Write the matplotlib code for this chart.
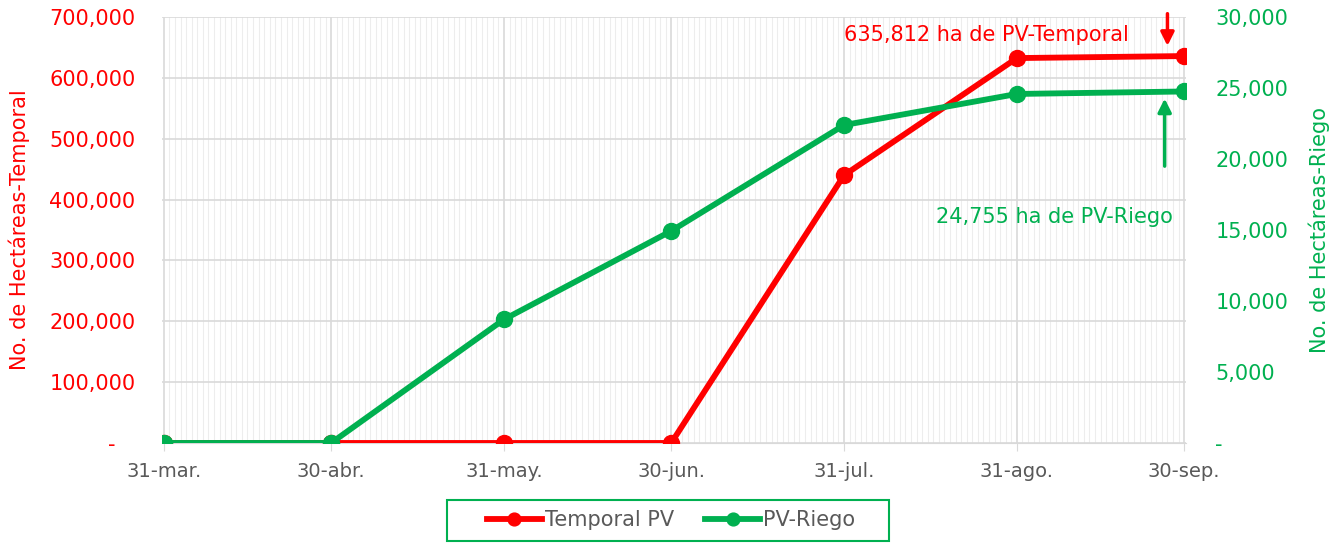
import matplotlib
matplotlib.use("Agg")
import matplotlib.pyplot as plt
import matplotlib.dates as mdates
from matplotlib.patches import Rectangle
import numpy as np
import pandas as pd
from matplotlib.ticker import FuncFormatter, MultipleLocator

plt.rcParams['font.family'] = ['DejaVu Sans']

dates = pd.to_datetime(["2023-03-31", "2023-04-30", "2023-05-31", "2023-06-30",
                        "2023-07-31", "2023-08-31", "2023-09-30"])
tick_labels = ["31-mar.", "30-abr.", "31-may.", "30-jun.", "31-jul.", "31-ago.", "30-sep."]
temporal = [0, 0, 0, 0, 440000, 632500, 635812]
riego = [0, 0, 8700, 14930, 22390, 24580, 24755]

RED = "#FF0000"
GREEN = "#00B050"
GRAY = "#595959"

fig = plt.figure(figsize=(13.4, 5.43), dpi=100)
ax = fig.add_axes([0.1209, 0.1842, 0.7642, 0.7845])
ax2 = ax.twinx()

pad = pd.Timedelta(hours=8)
ax.set_xlim(dates[0] - pad, dates[-1] + pad)
ax.set_ylim(0, 700000)
ax2.set_ylim(0, 30000)

# grid
ax.set_xticks(dates)
ax.set_xticklabels(tick_labels)
ax.xaxis.set_minor_locator(mdates.DayLocator())
ax.grid(which='minor', axis='x', color='#EDEDED', linewidth=0.8)
ax.grid(which='major', axis='x', color='#D9D9D9', linewidth=1.2)
ax.yaxis.set_major_locator(MultipleLocator(100000))
ax.grid(which='major', axis='y', color='#D9D9D9', linewidth=1.2)
ax.set_axisbelow(True)

ax.plot(dates, temporal, color=RED, lw=4.2, marker='o', ms=11.5, label='Temporal PV', zorder=3)
ax2.plot(dates, riego, color=GREEN, lw=4.2, marker='o', ms=11.5, label='PV-Riego', zorder=3)

fmt_left = lambda v, p: "-   " if v == 0 else f"{int(v):,}"
fmt_right = lambda v, p: "-" if v == 0 else f"{int(v):,}"
ax.yaxis.set_major_formatter(FuncFormatter(fmt_left))
ax2.yaxis.set_major_locator(MultipleLocator(5000))
ax2.yaxis.set_major_formatter(FuncFormatter(fmt_right))

for s in ['top', 'right', 'left']:
    ax.spines[s].set_visible(False)
    ax2.spines[s].set_visible(False)
ax.spines['bottom'].set_color('#D9D9D9')
ax2.spines['bottom'].set_visible(False)

ax.tick_params(axis='y', colors=RED, labelsize=15, length=0, pad=19)
ax2.tick_params(axis='y', colors=GREEN, labelsize=15, length=0, pad=21)
ax.tick_params(axis='x', which='major', colors='#D9D9D9', labelcolor=GRAY, labelsize=14, length=6, pad=8)
ax.tick_params(axis='x', which='minor', length=0)

ax.set_ylabel("No. de Hectáreas-Temporal", color=RED, fontsize=15, labelpad=14)
ax2.set_ylabel("No. de Hectáreas-Riego", color=GREEN, fontsize=15, labelpad=15)

# annotations
ax.text(dates[-1] - pd.Timedelta(days=10), 670000, "635,812 ha de PV-Temporal", color=RED,
        fontsize=15, ha='right', va='center')
ax.annotate("", xy=(dates[-1] - pd.Timedelta(days=3), 648000),
            xytext=(dates[-1] - pd.Timedelta(days=3), 710000),
            arrowprops=dict(arrowstyle='-|>', color=RED, lw=2.5, mutation_scale=20),
            annotation_clip=False)
ax2.text(dates[-1] - pd.Timedelta(days=2), 15900, "24,755 ha de PV-Riego", color=GREEN,
         fontsize=15, ha='right', va='center')
ax2.annotate("", xy=(dates[-1] - pd.Timedelta(days=3.5), 24450),
             xytext=(dates[-1] - pd.Timedelta(days=3.5), 19300),
             arrowprops=dict(arrowstyle='-|>', color=GREEN, lw=2.5, mutation_scale=20))

h1, l1 = ax.get_legend_handles_labels()
h2, l2 = ax2.get_legend_handles_labels()
leg = fig.legend(h1 + h2, l1 + l2, loc='center', bbox_to_anchor=(0.5007, 0.042), ncol=2,
                 fontsize=15, frameon=False, handlelength=2.64,
                 handletextpad=0.15, columnspacing=1.5, markerscale=0.8,
                 borderaxespad=0)
for t in leg.get_texts():
    t.set_color(GRAY)
fig.add_artist(Rectangle((447 / 1340, 2 / 543), 442 / 1340, 41 / 543,
                         transform=fig.transFigure, fill=False,
                         edgecolor=GREEN, linewidth=1.5))

fig.savefig("out.png", dpi=100)
